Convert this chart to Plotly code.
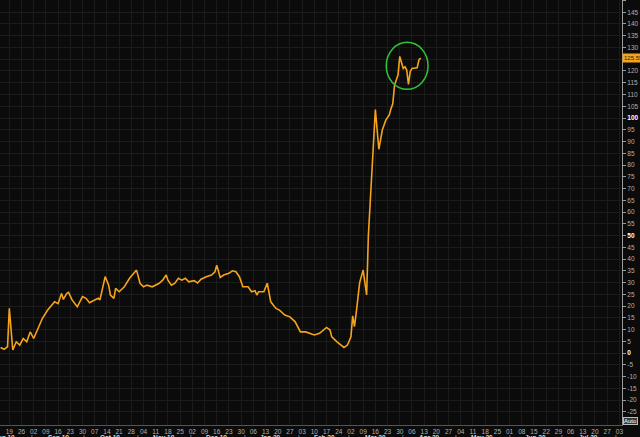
import plotly.graph_objects as go
import pandas as pd

dates = [
    "2019-08-14", "2019-08-16", "2019-08-18", "2019-08-19", "2019-08-21", "2019-08-23",
    "2019-08-25", "2019-08-27", "2019-08-29", "2019-08-31", "2019-09-02", "2019-09-04",
    "2019-09-07", "2019-09-10", "2019-09-14", "2019-09-16", "2019-09-18", "2019-09-19",
    "2019-09-21", "2019-09-22", "2019-09-24", "2019-09-27", "2019-09-30", "2019-10-02",
    "2019-10-04", "2019-10-07", "2019-10-09", "2019-10-10", "2019-10-12", "2019-10-13",
    "2019-10-15", "2019-10-16", "2019-10-18", "2019-10-19", "2019-10-21", "2019-10-24",
    "2019-10-27", "2019-10-30", "2019-10-31", "2019-11-02", "2019-11-04", "2019-11-06",
    "2019-11-09", "2019-11-13", "2019-11-15", "2019-11-17", "2019-11-18", "2019-11-20",
    "2019-11-22", "2019-11-24", "2019-11-26", "2019-11-28", "2019-11-30", "2019-12-03",
    "2019-12-05", "2019-12-07", "2019-12-10", "2019-12-13", "2019-12-15", "2019-12-16",
    "2019-12-18", "2019-12-20", "2019-12-23", "2019-12-25", "2019-12-27", "2019-12-29",
    "2019-12-31", "2020-01-03", "2020-01-05", "2020-01-07", "2020-01-08", "2020-01-09",
    "2020-01-12", "2020-01-14", "2020-01-16", "2020-01-19", "2020-01-21", "2020-01-24",
    "2020-01-27", "2020-01-30", "2020-02-02", "2020-02-05", "2020-02-07", "2020-02-10",
    "2020-02-13", "2020-02-15", "2020-02-17", "2020-02-19", "2020-02-20", "2020-02-23",
    "2020-02-27", "2020-02-29", "2020-03-02", "2020-03-03", "2020-03-04", "2020-03-05",
    "2020-03-07", "2020-03-09", "2020-03-11", "2020-03-12", "2020-03-14", "2020-03-16",
    "2020-03-18", "2020-03-20", "2020-03-22", "2020-03-24", "2020-03-25", "2020-03-26",
    "2020-03-27", "2020-03-29", "2020-03-30", "2020-04-01", "2020-04-02", "2020-04-03",
    "2020-04-04", "2020-04-05", "2020-04-06", "2020-04-08", "2020-04-09", "2020-04-10",
    "2020-04-11",
]
values = [
    2.4, 1.6, 2.7, 19.0, 1.3, 4.8,
    3.4, 6.2, 4.8, 9.0, 6.2, 9.8,
    14.8, 18.3, 21.8, 21.0, 25.4, 22.8,
    25.4, 25.8, 22.6, 19.7, 24.0, 23.3,
    21.4, 22.6, 23.3, 22.6, 29.7, 32.5,
    28.9, 24.7, 23.3, 27.5, 26.1, 28.2,
    31.8, 34.6, 35.3, 29.7, 28.2, 28.9,
    28.2, 29.7, 31.0, 33.2, 31.0, 28.9,
    29.7, 31.8, 31.0, 31.8, 30.3, 30.8,
    29.8, 31.4, 32.5, 33.2, 34.6, 37.4,
    32.2, 33.2, 33.9, 35.0, 34.6, 32.5,
    28.2, 28.2, 26.1, 26.5, 24.7, 26.1,
    26.1, 29.7, 21.8, 19.0, 18.3, 16.2,
    15.4, 13.3, 9.0, 9.0, 8.4, 7.7,
    8.4, 9.8, 10.9, 9.8, 6.9, 4.8,
    2.4, 3.4, 6.9, 15.8, 11.2, 17.0,
    30.0, 35.3, 24.7, 50.0, 77.0, 103.6,
    86.7, 94.9, 99.1, 101.3, 104.0, 106.0,
    114.0, 118.3, 126.2, 121.1, 121.8, 120.4,
    114.3, 119.7, 121.1, 121.1, 121.4, 124.7,
    125.55,
]
last_label = "125.550"

# axis settings
x_start, x_end = "2019-08-13 16:00", "2020-08-04 12:00"
y_min, y_max = -30.6, 150.2
week_ticks = pd.date_range("2019-08-19", "2020-08-03", freq="7D")
month_starts = pd.date_range("2019-09-01", "2020-08-01", freq="MS")
month_mids = pd.date_range("2019-08-01", "2020-07-01", freq="MS") + pd.Timedelta(days=15)

ytick_vals = list(range(-25, 151, 5))
ytick_text = []
for v in ytick_vals:
    if v % 50 == 0:
        ytick_text.append(f"<b><span style='color:#ffffff'>{v}</span></b>")
    else:
        ytick_text.append(str(v))

fig = go.Figure()
fig.add_trace(go.Scatter(
    x=pd.to_datetime(dates), y=values, mode="lines",
    line=dict(color="#f5a31a", width=1.6), hoverinfo="skip", showlegend=False,
))

bg = "#0b0b0b"
fig.update_layout(
    width=640, height=437,
    margin=dict(l=0, r=18, t=0, b=12, pad=0, autoexpand=False),
    paper_bgcolor=bg, plot_bgcolor=bg,
    font=dict(family="Liberation Sans, Arial, sans-serif", size=7, color="#b8b8b8"),
    xaxis=dict(
        range=[x_start, x_end], type="date",
        tickvals=week_ticks, ticktext=[d.strftime("%d") for d in week_ticks],
        tickfont=dict(size=6.5, color="#b0b0b0"),
        showgrid=True, gridcolor="#1b1b1b", gridwidth=1,
        showline=True, linecolor="#555555", linewidth=1,
        ticks="", zeroline=False, fixedrange=True, automargin=False,
    ),
    yaxis=dict(
        range=[y_min, y_max], side="right",
        tickvals=ytick_vals, ticktext=ytick_text,
        tickfont=dict(size=6.5, color="#b0b0b0"),
        ticks="outside", ticklen=3, tickcolor="#9a9a9a",
        showgrid=True, gridcolor="#1b1b1b", gridwidth=1,
        showline=True, linecolor="#9a9a9a", linewidth=1,
        zeroline=False, fixedrange=True, automargin=False,
    ),
)

annotations = []
for m in month_mids:
    annotations.append(dict(
        x=m, y=0, xref="x", yref="paper", yanchor="top", yshift=-7,
        text=f"<b>{m.strftime('%b %y')}</b>", showarrow=False,
        font=dict(size=6.5, color="#dcdcdc"),
    ))
for m in month_starts:
    annotations.append(dict(
        x=m, y=0, xref="x", yref="paper", yanchor="top", yshift=-7,
        text="|", showarrow=False, font=dict(size=6.5, color="#bbbbbb"),
    ))
annotations.append(dict(
    x=1, y=values[-1], xref="paper", yref="y", xanchor="left", yanchor="middle",
    text=last_label, showarrow=False, bgcolor="#f5a31a", borderpad=1,
    font=dict(size=6, color="#1a1a1a"),
))
annotations.append(dict(
    x=1, y=0, xref="paper", yref="paper", xanchor="left", yanchor="bottom",
    xshift=1, yshift=0,
    text="Auto", showarrow=False, bgcolor="#3a3a3a", bordercolor="#bbbbbb",
    borderwidth=1, borderpad=0, font=dict(size=6, color="#ffffff"),
))
fig.update_layout(annotations=annotations)

# green highlight circle around the recent peak
fig.add_shape(
    type="circle", xref="x", yref="y",
    x0="2020-03-22 06:00", x1="2020-04-15 06:00", y0=112.2, y1=132.2,
    line=dict(color="#2fc23a", width=1.5),
)

fig.write_html(
    "out.html",
    config={"displayModeBar": False},
    post_script="document.body.style.margin='0';document.body.style.background='#0b0b0b';",
)
